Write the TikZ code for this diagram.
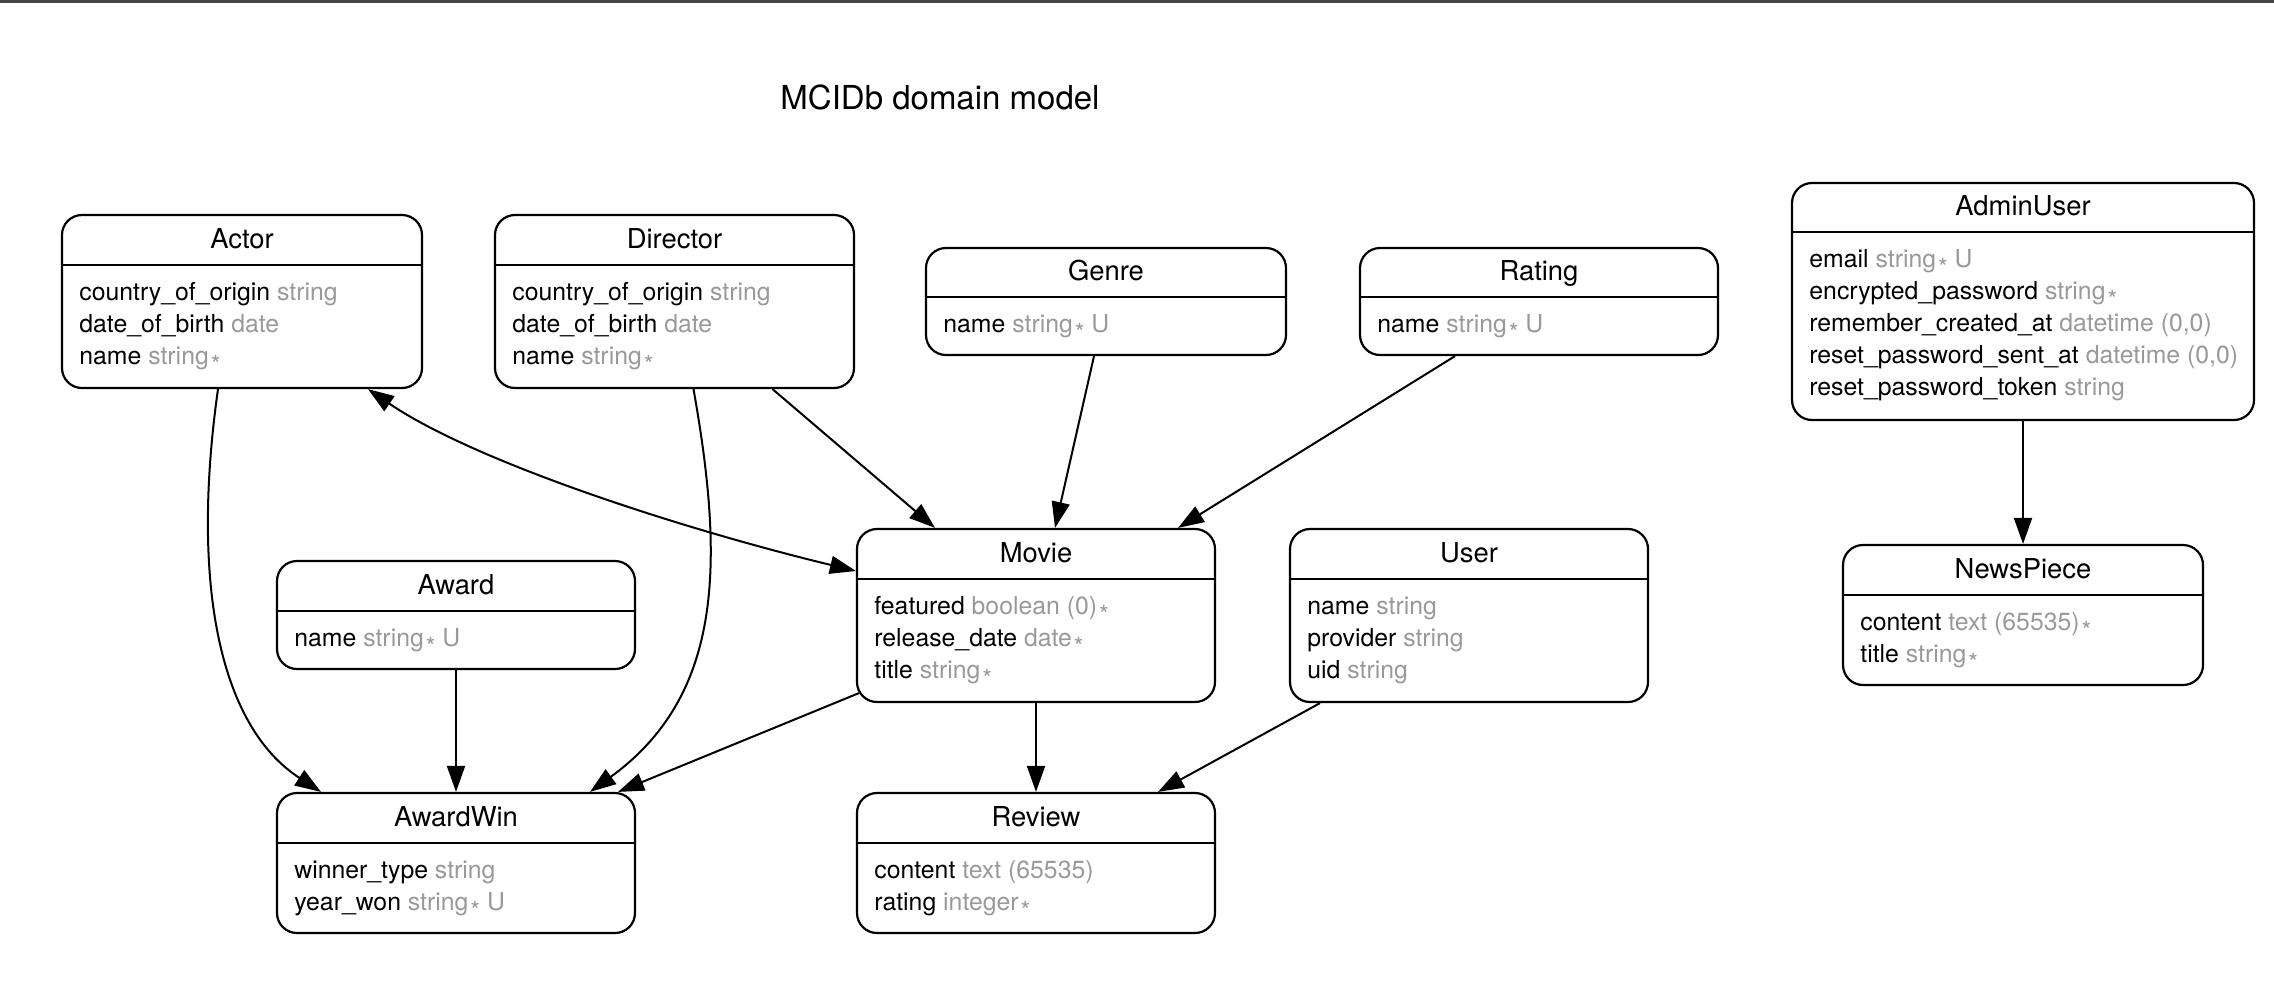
\documentclass[tikz,border=0pt]{standalone}
\usepackage{fontspec}
\setmainfont{TeX Gyre Heros}
\usetikzlibrary{arrows.meta,calc,fit}
\definecolor{attrgray}{HTML}{999999}
\definecolor{topline}{HTML}{444444}
\newcommand{\ty}[1]{\textcolor{attrgray}{#1}}
\newcommand{\reqmark}{\textcolor{attrgray}{\kern1pt\raisebox{-4.6pt}{\fontsize{12.5}{12.5}\selectfont *}}}
\tikzset{
  entbox/.style={draw, line width=1.1pt, rounded corners=10pt, inner sep=0pt},
  seprule/.style={line width=1.1pt},
  hdr/.style={anchor=base, inner sep=0pt, font=\fontsize{13.7}{16}\selectfont},
  attrtext/.style={anchor=base west, inner sep=0pt, font=\fontsize{12.4}{15}\selectfont},
  rel/.style={line width=1pt, -{Triangle[length=13pt,width=9pt]}},
  birel/.style={line width=1pt, {Triangle[length=13pt,width=9pt]}-{Triangle[length=13pt,width=9pt]}},
}
% #1 name, #2 title, #3 left, #4 top, #5 right, #6 separator, #7 bottom
\newcommand{\entity}[7]{%
  \node[entbox, fit={(#3,#4) (#5,#7)}] (#1) {};
  \draw[seprule] (#3,#6) -- (#5,#6);
  \node[hdr] (#1-h) at ({(#3+#5)/2},{(#4+#6)/2+8}) {#2};
}
% #1 node name, #2 left, #3 separator, #4 index, #5 text
\newcommand{\attrrow}[5]{%
  \node[attrtext] (#1) at ({#2+17},{#3+35+32*#4}) {#5};
}
\begin{document}
\begin{tikzpicture}[x=0.5pt,y=-0.5pt]
\useasboundingbox (0,0) rectangle (2274,996);
\draw[topline, line width=1.5pt] (0,1.5) -- (2274,1.5);

\node[anchor=base, inner sep=0pt, font=\fontsize{16.5}{20}\selectfont] (title) at (940,109) {MCIDb domain model};

% Actor
\entity{actor}{Actor}{62}{215}{422}{265}{388}
\attrrow{actor-a1}{62}{265}{0}{country\_of\_origin \ty{string}}
\attrrow{actor-a2}{62}{265}{1}{date\_of\_birth \ty{date}}
\attrrow{actor-a3}{62}{265}{2}{name \ty{string}\reqmark}
% Director
\entity{director}{Director}{495}{215}{854}{265}{388}
\attrrow{director-a1}{495}{265}{0}{country\_of\_origin \ty{string}}
\attrrow{director-a2}{495}{265}{1}{date\_of\_birth \ty{date}}
\attrrow{director-a3}{495}{265}{2}{name \ty{string}\reqmark}
% Genre
\entity{genre}{Genre}{926}{248}{1286}{297}{355}
\attrrow{genre-a1}{926}{297}{0}{name \ty{string}\reqmark\ \ty{U}}
% Rating
\entity{rating}{Rating}{1360}{248}{1718}{297}{355}
\attrrow{rating-a1}{1360}{297}{0}{name \ty{string}\reqmark\ \ty{U}}
% Movie
\entity{movie}{Movie}{857}{529}{1215}{579}{702}
\attrrow{movie-a1}{857}{579}{0}{featured \ty{boolean (0)}\reqmark}
\attrrow{movie-a2}{857}{579}{1}{release\_date \ty{date}\reqmark}
\attrrow{movie-a3}{857}{579}{2}{title \ty{string}\reqmark}
% User
\entity{user}{User}{1290}{529}{1648}{579}{702}
\attrrow{user-a1}{1290}{579}{0}{name \ty{string}}
\attrrow{user-a2}{1290}{579}{1}{provider \ty{string}}
\attrrow{user-a3}{1290}{579}{2}{uid \ty{string}}
% Award
\entity{award}{Award}{277}{561}{635}{611}{669}
\attrrow{award-a1}{277}{611}{0}{name \ty{string}\reqmark\ \ty{U}}
% AwardWin
\entity{awardwin}{AwardWin}{277}{793}{635}{843}{933}
\attrrow{awardwin-a1}{277}{843}{0}{winner\_type \ty{string}}
\attrrow{awardwin-a2}{277}{843}{1}{year\_won \ty{string}\reqmark\ \ty{U}}
% Review
\entity{review}{Review}{857}{793}{1215}{843}{933}
\attrrow{review-a1}{857}{843}{0}{content \ty{text (65535)}}
\attrrow{review-a2}{857}{843}{1}{rating \ty{integer}\reqmark}
% AdminUser
\entity{adminuser}{AdminUser}{1792}{183}{2254}{232}{420}
\attrrow{adminuser-a1}{1792}{232}{0}{email \ty{string}\reqmark\ \ty{U}}
\attrrow{adminuser-a2}{1792}{232}{1}{encrypted\_password \ty{string}\reqmark}
\attrrow{adminuser-a3}{1792}{232}{2}{remember\_created\_at \ty{datetime (0,0)}}
\attrrow{adminuser-a4}{1792}{232}{3}{reset\_password\_sent\_at \ty{datetime (0,0)}}
\attrrow{adminuser-a5}{1792}{232}{4}{reset\_password\_token \ty{string}}
% NewsPiece
\entity{newspiece}{NewsPiece}{1843}{545}{2203}{595}{685}
\attrrow{newspiece-a1}{1843}{595}{0}{content \ty{text (65535)}\reqmark}
\attrrow{newspiece-a2}{1843}{595}{1}{title \ty{string}\reqmark}

% Connectors
\draw[rel] ($(actor.south)+(-24,0)$) .. controls (191,580) and (218,725) .. ($(awardwin.north)+(-135,0)$);
\draw[rel] ($(director.south)+(19,0)$) .. controls (725,566) and (722,696) .. ($(awardwin.north)+(134,0)$);
\draw[rel] ($(director.south)+(98,0)$) -- ($(movie.north)+(-101,0)$);
\draw[rel] ($(genre.south)+(-12,0)$) -- ($(movie.north)+(19,0)$);
\draw[rel] ($(rating.south)+(-84,0)$) -- ($(movie.north)+(142,0)$);
\draw[birel] ($(actor.south)+(126,0)$) .. controls (475,462) and (682,529) .. ($(movie.west)+(0,-44.5)$);
\draw[rel] (award.south) -- (awardwin.north);
\draw[rel] ($(movie.south west)+(3,-10)$) -- ($(awardwin.north)+(162,0)$);
\draw[rel] (movie.south) -- (review.north);
\draw[rel] ($(user.south)+(-149,0)$) -- ($(review.north)+(122,0)$);
\draw[rel] (adminuser.south) -- (newspiece.north);
\end{tikzpicture}
\end{document}
